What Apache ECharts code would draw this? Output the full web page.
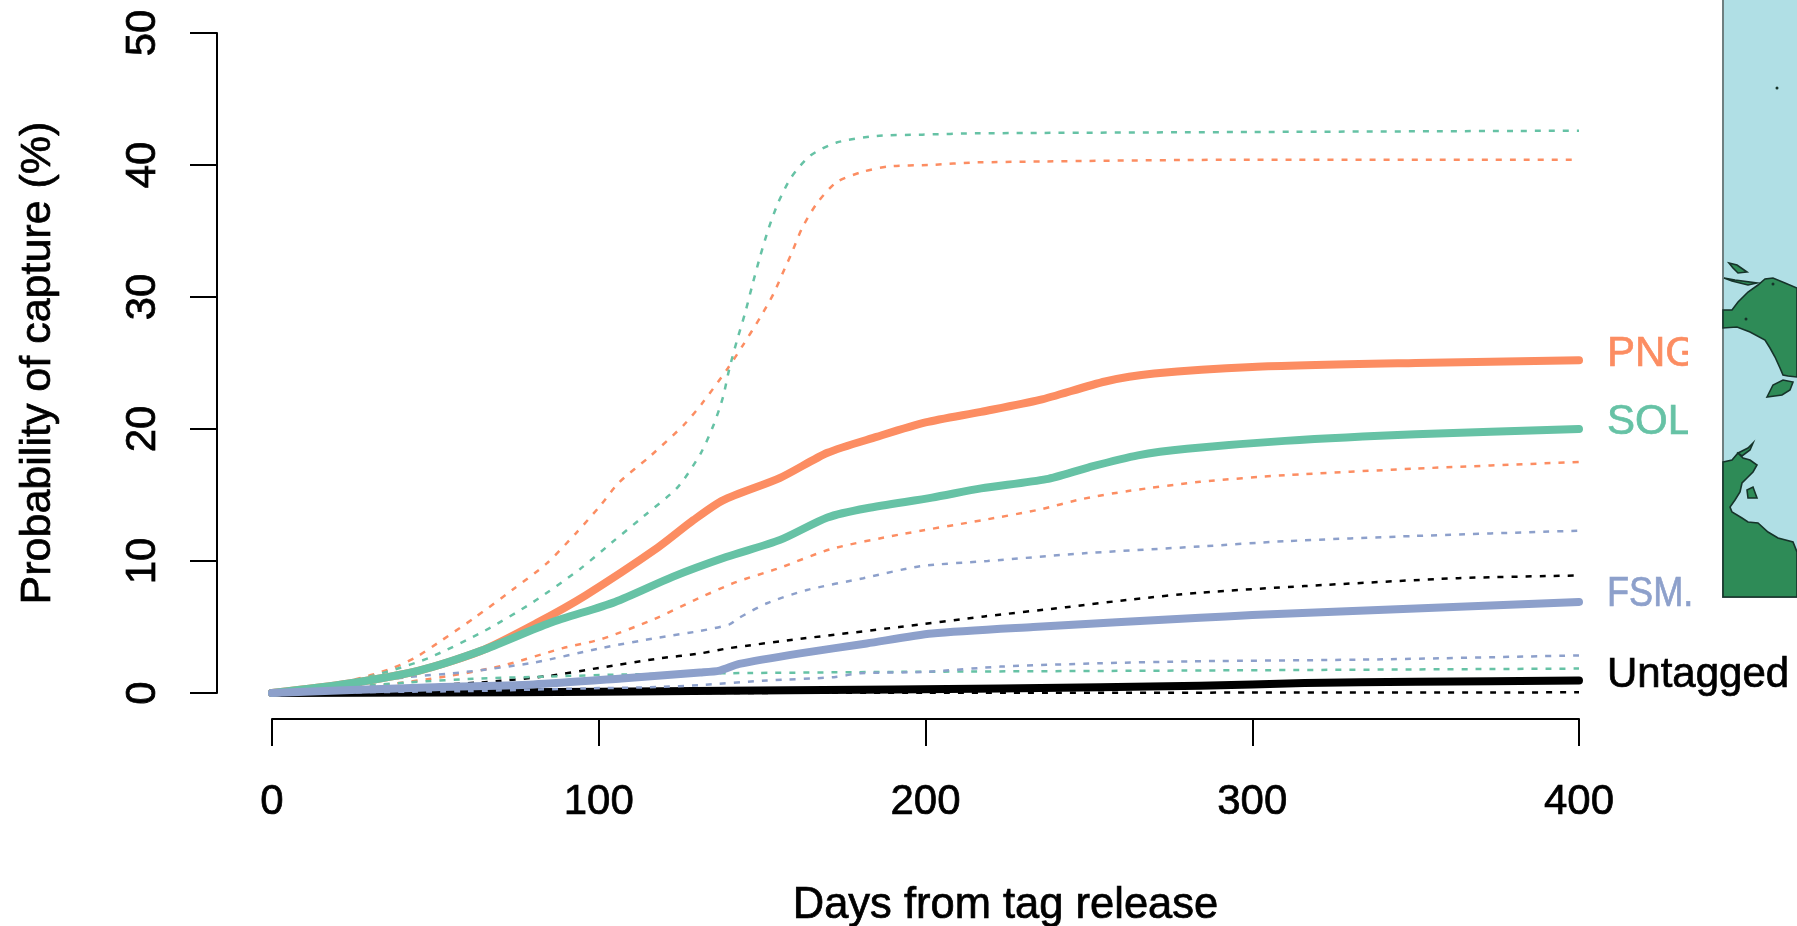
<!DOCTYPE html>
<html><head><meta charset="utf-8">
<style>html,body{margin:0;padding:0;background:#fff}#c{width:1797px;height:926px}</style>
<script src="https://cdn.jsdelivr.net/npm/echarts@6/dist/echarts.min.js"></script>
</head><body><div id="c"></div>
<script>
// [day, % probability]
const pngMean = [[0,0],[23,.7],[45,1.7],[64,3.2],[81,5.3],[96,7.4],[118,11],[129,13.1],[138,14.6],[155.5,16.3],[170,18.2],[185,19.4],[200,20.5],[217,21.3],[235,22.2],[255,23.6],[270,24.2],[300,24.7],[350,25],[400,25.2]];
const pngUpper = [[0,0],[24,.95],[36.5,1.85],[44,2.7],[52,4],[62,5.7],[73.5,7.8],[84,9.8],[93,12.1],[100.5,14.2],[106,15.9],[116,18],[126,20.3],[131.5,21.9],[139.5,24.6],[144,26.3],[149.3,28.4],[153.4,30.2],[157,32.2],[159,33.3],[162.2,35.2],[166.8,37.1],[172.8,38.7],[181,39.5],[189,39.9],[201,40],[216,40.2],[300,40.4],[400,40.4]];
const pngLower = [[0,0],[30,.5],[54.5,1.3],[71,2.1],[89,3.4],[101,4.1],[117,5.6],[129,7],[142,8.4],[154.5,9.4],[171,10.9],[192,12],[217.6,13.1],[235,13.9],[248,14.7],[262,15.3],[284,16],[310,16.5],[350,17],[400,17.5]];
const solMean = [[0,0],[23,.7],[45,1.7],[64,3.2],[85,5.3],[105,6.9],[122.6,8.8],[139,10.3],[155.5,11.6],[170,13.3],[182,14],[202,14.8],[217,15.5],[237,16.2],[250,17.1],[265,18],[280,18.5],[310,19.1],[350,19.6],[400,20]];
const solUpper = [[0,0],[24,.9],[36.5,1.7],[48.4,2.7],[65,4.7],[80,6.9],[94.3,9.4],[104,11.4],[113.8,13.4],[124.2,15.6],[131.3,18.2],[135.3,20.4],[138,22.4],[140,24.6],[142.3,26.7],[144.8,28.8],[147,30.9],[149.3,33],[152,35.2],[155,37.2],[159,39.1],[164.7,40.7],[172.8,41.7],[185,42.2],[199,42.3],[216,42.4],[300,42.5],[400,42.6]];
const solLower = [[0,0],[41.6,.8],[64,1.1],[85,1.25],[107,1.4],[140,1.5],[192,1.6],[279,1.7],[400,1.85]];
const fsmMean = [[0,0],[45,.4],[80,.65],[107,1.1],[131,1.55],[137,1.7],[143,2.2],[161.6,3],[182,3.75],[202,4.5],[233,5],[284,5.7],[300,5.9],[350,6.4],[400,6.9]];
const fsmUpper = [[0,0],[41.6,1.2],[59.5,1.6],[80,2.3],[100.7,3.4],[118.4,4.2],[131,4.7],[140,5.2],[143,5.7],[151.5,6.8],[163.7,7.8],[181,8.7],[198.3,9.6],[219,10],[249.4,10.6],[284,11.1],[310,11.5],[350,11.9],[400,12.3]];
const fsmLower = [[0,0],[60,.15],[96,.35],[118,.45],[131,.6],[151.5,.95],[172,1.2],[180,1.5],[200,1.6],[223,2],[253,2.25],[282,2.4],[340,2.55],[400,2.85]];
const untaggedMean = [[0,0],[50,.03],[100,.1],[158,.2],[223,.35],[284,.55],[316,.75],[350,.85],[400,.95]];
const untaggedUpper = [[0,0],[64,.8],[85,1.3],[100,1.9],[118,2.6],[131,3],[140,3.4],[161.6,4.1],[192,5],[218,5.8],[243,6.5],[263.5,7.1],[284,7.6],[316,8.1],[363,8.7],[400,8.9]];
const untaggedLower = [[0,0],[100,0],[200,.02],[300,.03],[400,.05]];
const xTicks = {min:0,max:400,interval:100};
const yTicks = {min:0,max:50,interval:10};
const PNG='#FC8D62', SOL='#66C2A5', FSM='#8DA0CB', BLK='#000000';
const FONT='"Liberation Sans", Arial, sans-serif';

// Decorative map inset outlines (screen pixels)
const mainlandNorth = [[1723,310],[1732,310],[1738,302],[1748,292],[1758,285],[1765,279],[1773,278],[1785,283],[1797,288],[1797,377],[1788,376],[1783,375],[1780,368],[1775,357],[1770,348],[1765,340],[1750,332],[1737,327],[1723,328]];
const bay = [[1767,397],[1773,385],[1783,380],[1793,382],[1790,390],[1782,395]];
const isle1 = [[1729,263],[1737,265],[1747,272],[1738,273],[1733,268]];
const isle2 = [[1724,278],[1735,280],[1757,283],[1748,285],[1732,281]];
const mainlandSouth = [[1723,462],[1732,460],[1738,453],[1743,458],[1750,460],[1757,465],[1753,472],[1747,478],[1742,483],[1740,492],[1735,500],[1730,507],[1732,512],[1742,518],[1748,522],[1758,523],[1768,532],[1778,538],[1793,542],[1797,552],[1797,597],[1723,597]];
const isle3 = [[1747,490],[1753,487],[1757,498],[1748,498]];
const isle4 = [[1738,453],[1748,448],[1753,443],[1750,450],[1742,456]];
const dots = [[1777,88],[1773,284],[1746,319]];

const mkMean=(data,color,w)=>({type:'line',data,showSymbol:false,symbol:'none',smooth:0.25,clip:false,silent:true,
  lineStyle:{color,width:w,cap:'round',join:'round'}});
const mkDash=(data,color)=>({type:'line',data,showSymbol:false,symbol:'none',smooth:0.25,clip:false,silent:true,
  lineStyle:{color,width:2.5,type:[6,8],cap:'butt'}});

const poly=(points,fill)=>({type:'polygon',z:10,shape:{points},style:{fill,stroke:'#16332a',lineWidth:1.6}});
const lab=(text,x,y,fill,scaleX)=>({type:'text',z:20,x,y,scaleX:scaleX||1,style:{text,x:0,y:0,fill,stroke:fill,lineWidth:0.7,font:'42px '+FONT,textVerticalAlign:'middle',verticalAlign:'middle'}});
const heavy={textBorderColor:'#000',textBorderWidth:0.7};

const chart=echarts.init(document.getElementById('c'),null,{renderer:'canvas'});
chart.setOption({
  animation:false,backgroundColor:'#fff',
  grid:{left:272,right:218,top:33,bottom:233,containLabel:false,outerBoundsMode:'none'},
  xAxis:{type:'value',...xTicks,offset:26,name:'Days from tag release',nameLocation:'middle',nameGap:165,
    nameTextStyle:{color:'#000',fontSize:43.5,fontFamily:FONT,padding:[0,0,0,160],...heavy},
    axisLine:{show:true,onZero:false,lineStyle:{color:'#000',width:2}},
    axisTick:{show:true,length:27,lineStyle:{color:'#000',width:2}},
    axisLabel:{color:'#000',fontSize:42,fontFamily:FONT,margin:62,hideOverlap:false,showMinLabel:true,showMaxLabel:true,...heavy},
    splitLine:{show:false}},
  yAxis:{type:'value',...yTicks,offset:55,name:'Probability of capture (%)',nameLocation:'middle',nameGap:157,
    nameTextStyle:{color:'#000',fontSize:43,fontFamily:FONT,...heavy},
    axisLine:{show:true,onZero:false,lineStyle:{color:'#000',width:2}},
    axisTick:{show:true,length:27,lineStyle:{color:'#000',width:2}},
    axisLabel:{color:'#000',fontSize:42,fontFamily:FONT,rotate:90,margin:74,hideOverlap:false,showMinLabel:true,showMaxLabel:true,align:'center',verticalAlign:'middle',...heavy},
    splitLine:{show:false}},
  series:[
    mkDash(untaggedUpper,BLK),mkDash(untaggedLower,BLK),
    mkMean(untaggedMean,BLK,8),
    mkDash(pngUpper,PNG),mkDash(pngLower,PNG),
    mkDash(solUpper,SOL),mkDash(solLower,SOL),
    mkDash(fsmUpper,FSM),mkDash(fsmLower,FSM),
    mkMean(pngMean,PNG,8),mkMean(solMean,SOL,8),mkMean(fsmMean,FSM,8)
  ],
  graphic:{elements:[
    {type:'rect',z:10,shape:{x:1723,y:-2,width:80,height:599},style:{fill:'#B0DFE5',stroke:'#6e7f80',lineWidth:2}},
    poly(mainlandNorth,'#2E8B57'),poly(bay,'#2E8B57'),poly(isle1,'#2E8B57'),poly(isle2,'#2E8B57'),
    poly(mainlandSouth,'#2E8B57'),poly(isle3,'#2E8B57'),poly(isle4,'#2E8B57'),
    ...dots.map(d=>({type:'circle',z:11,shape:{cx:d[0],cy:d[1],r:1.5},style:{fill:'#16332a'}})),
    lab('PNG',1607,354,PNG),
    lab('SOL',1607,422,SOL),
    lab('FSM.',1607,594,FSM,0.86),
    lab('Untagged',1607,675,BLK),
    {type:'rect',z:30,shape:{x:1688,y:325,width:33,height:120},style:{fill:'#fff'}}
  ]}
});
</script></body></html>
